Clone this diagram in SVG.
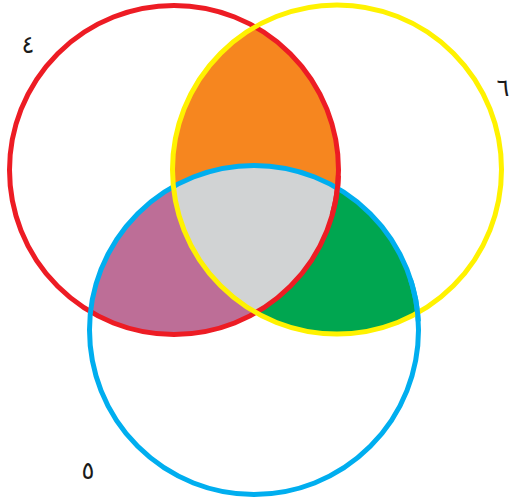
<svg xmlns="http://www.w3.org/2000/svg" width="511" height="504" viewBox="0 0 511 504">
<style>
.ring{fill:none;stroke-width:5}
.r{stroke:#ED1C24}
.y{stroke:#FFF200}
.b{stroke:#00AEEF}
.lbl{font-family:"DejaVu Sans",sans-serif;font-size:24px;fill:#1a1a1a}
</style>
<defs>
<clipPath id="cR"><circle cx="174" cy="170" r="164.5"/></clipPath>
<clipPath id="cY"><circle cx="337" cy="169.5" r="164.5"/></clipPath>
</defs>
<rect width="511" height="504" fill="#fff"/>
<g id="regions">
<g clip-path="url(#cR)"><circle cx="337" cy="169.5" r="164.5" fill="#F6861F"/></g>
<g clip-path="url(#cR)"><circle cx="254" cy="330" r="164.5" fill="#BD6E97"/></g>
<g clip-path="url(#cY)"><circle cx="254" cy="330" r="164.5" fill="#00A650"/></g>
<g clip-path="url(#cR)"><g clip-path="url(#cY)"><circle cx="254" cy="330" r="164.5" fill="#D1D3D4"/></g></g>
</g>
<g id="set-red"><circle class="ring r" cx="174" cy="170" r="164.5"/></g>
<g id="set-blue"><circle class="ring b" cx="254" cy="330" r="164.5"/></g>
<g id="set-yellow"><circle class="ring y" cx="337" cy="169.5" r="164.5"/></g>
<g id="connectors">
<path class="ring r" d="M338.4,175.7 A164.5,164.5 0 0 1 332.1,215.3"/>
<path class="ring b" d="M410.4,279.2 A164.5,164.5 0 0 1 418.3,321.4"/>
</g>
<g id="labels">
<text class="lbl" x="28" y="53" text-anchor="middle">٤</text>
<text class="lbl" x="503" y="96" text-anchor="middle">٦</text>
<text class="lbl" x="88" y="479" text-anchor="middle">٥</text>
</g>
</svg>
